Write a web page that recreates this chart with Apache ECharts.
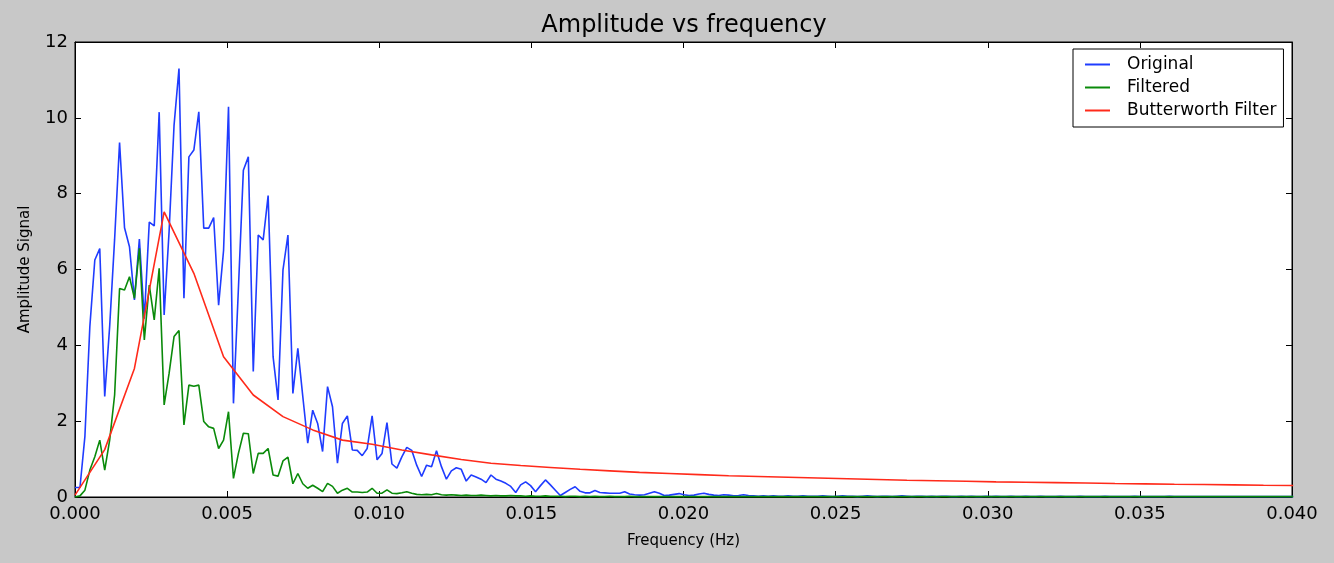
<!DOCTYPE html>
<html>
<head>
<meta charset="utf-8">
<script src="https://cdn.jsdelivr.net/npm/echarts@6/dist/echarts.min.js"></script>
<style>
html,body{margin:0;padding:0;background:#c8c8c8;}
#chart{width:1334px;height:563px;}
</style>
</head>
<body>
<div id="chart"></div>
<script>
// Frequency resolution of the spectra (Hz per bin)
const ORIGINAL_BIN_HZ = 1 / 6144;
const BUTTER_BIN_HZ = 1 / 1024;

const seriesNames = ['Original', 'Filtered', 'Butterworth Filter'];
const xTicks = ['0.000','0.005','0.010','0.015','0.020','0.025','0.030','0.035','0.040'];
const yTicks = [0, 2, 4, 6, 8, 10, 12];

const originalAmp = [
  0.25, 0.25, 1.6, 4.5, 6.25, 6.55, 2.65, 4.5, 6.8, 9.35,
  7.1, 6.6, 5.2, 6.8, 4.7, 7.25, 7.15, 10.15, 4.8, 7.0,
  9.8, 11.3, 5.24, 8.97, 9.15, 10.16, 7.09, 7.09, 7.37, 5.06,
  6.5, 10.29, 2.47, 5.5, 8.62, 8.97, 3.31, 6.91, 6.78, 7.95,
  3.7, 2.56, 5.99, 6.91, 2.73, 3.92, 2.65, 1.42, 2.29, 1.94,
  1.2, 2.91, 2.38, 0.89, 1.94, 2.14, 1.24, 1.23, 1.09, 1.28,
  2.14, 0.98, 1.15, 1.96, 0.87, 0.76, 1.06, 1.31, 1.23, 0.84,
  0.54, 0.84, 0.8, 1.22, 0.8, 0.47, 0.69, 0.77, 0.73, 0.42,
  0.58, 0.53, 0.47, 0.38, 0.58, 0.47, 0.42, 0.36, 0.28, 0.12,
  0.32, 0.4, 0.3, 0.14, 0.3, 0.45, 0.32, 0.18, 0.04, 0.12,
  0.2, 0.27, 0.15, 0.11, 0.11, 0.17, 0.12, 0.11, 0.1, 0.1,
  0.1, 0.14, 0.08, 0.06, 0.05, 0.06, 0.1, 0.14, 0.1, 0.04,
  0.05, 0.07, 0.09, 0.06, 0.04, 0.05, 0.08, 0.1, 0.07, 0.05,
  0.04, 0.06, 0.05, 0.03, 0.04, 0.06, 0.04, 0.03, 0.02, 0.03,
  0.02, 0.03, 0.02, 0.02, 0.03, 0.02, 0.02, 0.03, 0.02, 0.02,
  0.02, 0.03, 0.02, 0.01, 0.02, 0.03, 0.02, 0.02, 0.01, 0.02,
  0.03, 0.02, 0.01, 0.02, 0.02, 0.01, 0.02, 0.03, 0.02, 0.01,
  0.02, 0.02, 0.01, 0.02, 0.01, 0.02, 0.02, 0.01, 0.01, 0.02,
  0.01, 0.02, 0.01, 0.01, 0.02, 0.01, 0.02, 0.01, 0.01, 0.02,
  0.01, 0.01, 0.02, 0.01, 0.01, 0.02, 0.01, 0.01, 0.01, 0.02,
  0.01, 0.01, 0.01, 0.02, 0.01, 0.01, 0.01, 0.01, 0.02, 0.01,
  0.01, 0.01, 0.01, 0.01, 0.02, 0.01, 0.01, 0.01, 0.01, 0.01,
  0.01, 0.02, 0.01, 0.01, 0.01, 0.01, 0.01, 0.01, 0.01, 0.01,
  0.01, 0.01, 0.01, 0.01, 0.01, 0.01, 0.01, 0.01, 0.01, 0.01,
  0.01, 0.01, 0.01, 0.01, 0.01, 0.01, 0.01
];

const filteredAmp = [
  0.0, 0.03, 0.18, 0.71, 1.06, 1.5, 0.71, 1.5, 2.69, 5.5,
  5.46, 5.81, 5.24, 6.56, 4.14, 5.59, 4.67, 6.03, 2.43, 3.26,
  4.23, 4.39, 1.9, 2.95, 2.92, 2.95, 1.99, 1.85, 1.81, 1.28,
  1.5, 2.25, 0.49, 1.15, 1.68, 1.67, 0.62, 1.15, 1.15, 1.28,
  0.58, 0.55, 0.95, 1.05, 0.35, 0.62, 0.35, 0.23, 0.31, 0.23,
  0.14, 0.36, 0.28, 0.1, 0.18, 0.23, 0.13, 0.13, 0.12, 0.13,
  0.23, 0.1, 0.1, 0.19, 0.1, 0.09, 0.11, 0.14, 0.1, 0.07,
  0.06, 0.07, 0.06, 0.09, 0.06, 0.05, 0.06, 0.05, 0.04, 0.05,
  0.04, 0.04, 0.05, 0.04, 0.03, 0.04, 0.03, 0.03, 0.04, 0.03,
  0.03, 0.02, 0.03, 0.02, 0.02, 0.03, 0.02, 0.02, 0.02, 0.01,
  0.02, 0.02, 0.01, 0.02, 0.01, 0.02, 0.01, 0.01, 0.02, 0.01,
  0.01, 0.01, 0.02, 0.01, 0.01, 0.01, 0.01, 0.01, 0.01, 0.01,
  0.01, 0.01, 0.01, 0.01, 0.01, 0.01, 0.01, 0.01, 0.01, 0.01,
  0.01, 0.01, 0.01, 0.01, 0.01, 0.01, 0.01, 0.01, 0.01, 0.01,
  0.01, 0.01, 0.01, 0.01, 0.01, 0.01, 0.01, 0.01, 0.01, 0.01,
  0.01, 0.01, 0.01, 0.01, 0.01, 0.01, 0.01, 0.01, 0.01, 0.01,
  0.01, 0.01, 0.01, 0.01, 0.01, 0.01, 0.01, 0.01, 0.01, 0.01,
  0.01, 0.01, 0.01, 0.01, 0.01, 0.01, 0.01, 0.01, 0.01, 0.01,
  0.01, 0.01, 0.01, 0.01, 0.01, 0.01, 0.01, 0.01, 0.01, 0.01,
  0.01, 0.01, 0.01, 0.01, 0.01, 0.01, 0.01, 0.01, 0.01, 0.01,
  0.01, 0.01, 0.01, 0.01, 0.01, 0.01, 0.01, 0.01, 0.01, 0.01,
  0.01, 0.01, 0.01, 0.01, 0.01, 0.01, 0.01, 0.01, 0.01, 0.01,
  0.01, 0.01, 0.01, 0.01, 0.01, 0.01, 0.01, 0.01, 0.01, 0.01,
  0.01, 0.01, 0.01, 0.01, 0.01, 0.01, 0.01, 0.01, 0.01, 0.01,
  0.01, 0.01, 0.01, 0.01, 0.01, 0.01, 0.01
];

const butterworthAmp = [
  0.05, 1.25, 3.39, 7.52, 5.9, 3.7, 2.69, 2.12, 1.77, 1.5,
  1.39, 1.24, 1.11, 0.99, 0.89, 0.83, 0.78, 0.73, 0.69, 0.65,
  0.62, 0.59, 0.56, 0.54, 0.52, 0.5, 0.48, 0.46, 0.44, 0.43,
  0.415, 0.4, 0.39, 0.38, 0.37, 0.355, 0.345, 0.335, 0.33, 0.32,
  0.31, 0.305
];

function toPairs(values, step) {
  return values.map((v, i) => [i * step, v]);
}

const FONT = 'DejaVu Sans';
const chart = echarts.init(document.getElementById('chart'), null, {renderer: 'canvas'});

const tickStyle = {show: true, inside: true, length: 6, lineStyle: {color: '#000', width: 1}};
const axisLine = {show: true, onZero: false, lineStyle: {color: '#000', width: 1}};

chart.setOption({
  animation: false,
  backgroundColor: '#c8c8c8',
  textStyle: {fontFamily: FONT},
  title: {
    text: 'Amplitude vs frequency',
    left: 679,
    top: 9,
    textAlign: 'center',
    textStyle: {fontFamily: FONT, fontSize: 24, fontWeight: 'normal', color: '#000'}
  },
  legend: {
    data: seriesNames,
    orient: 'vertical',
    left: 1073,
    top: 49,
    icon: 'rect',
    itemWidth: 25,
    itemHeight: 2,
    itemGap: 6,
    padding: [7, 7, 8, 12],
    backgroundColor: '#fff',
    borderColor: '#000',
    borderWidth: 1,
    borderRadius: 0,
    textStyle: {fontFamily: FONT, fontSize: 17, lineHeight: 17, color: '#000', padding: [0, 0, 0, 12]}
  },
  grid: {left: 75, right: 42, top: 42, bottom: 66, show: true, backgroundColor: '#fff', borderColor: '#000', borderWidth: 1},
  xAxis: [{
    type: 'value', min: 0, max: 0.04, interval: 0.005,
    name: 'Frequency (Hz)', nameLocation: 'middle', nameGap: 37,
    nameTextStyle: {fontFamily: FONT, fontSize: 15, color: '#000'},
    axisLine: axisLine, axisTick: tickStyle, splitLine: {show: false},
    axisLabel: {fontFamily: FONT, fontSize: 18, color: '#000', margin: 8,
      formatter: v => xTicks[Math.round(v / 0.005)] || v.toFixed(3)}
  }, {
    type: 'value', position: 'top', min: 0, max: 0.04, interval: 0.005,
    axisLine: axisLine, axisTick: tickStyle, splitLine: {show: false}, axisLabel: {show: false}
  }],
  yAxis: [{
    type: 'value', min: 0, max: 12, interval: 2,
    name: 'Amplitude Signal', nameLocation: 'middle', nameGap: 42, nameRotate: 90,
    nameTextStyle: {fontFamily: FONT, fontSize: 15, color: '#000'},
    axisLine: axisLine, axisTick: tickStyle, splitLine: {show: false},
    axisLabel: {fontFamily: FONT, fontSize: 18, color: '#000', margin: 7,
      formatter: v => String(yTicks[Math.round(v / 2)])}
  }, {
    type: 'value', position: 'right', min: 0, max: 12, interval: 2,
    axisLine: axisLine, axisTick: tickStyle, splitLine: {show: false}, axisLabel: {show: false}
  }],
  series: [{
    name: seriesNames[0], type: 'line', symbol: 'none', showSymbol: false,
    data: toPairs(originalAmp, ORIGINAL_BIN_HZ), clip: true,
    lineStyle: {color: '#1f3cff', width: 1.6}, itemStyle: {color: '#1f3cff'}
  }, {
    name: seriesNames[1], type: 'line', symbol: 'none', showSymbol: false,
    data: toPairs(filteredAmp, ORIGINAL_BIN_HZ), clip: true,
    lineStyle: {color: '#0a8a0a', width: 1.6}, itemStyle: {color: '#0a8a0a'}
  }, {
    name: seriesNames[2], type: 'line', symbol: 'none', showSymbol: false,
    data: toPairs(butterworthAmp, BUTTER_BIN_HZ), clip: true,
    lineStyle: {color: '#ff2a1a', width: 1.6}, itemStyle: {color: '#ff2a1a'}
  }]
});
</script>
</body>
</html>
